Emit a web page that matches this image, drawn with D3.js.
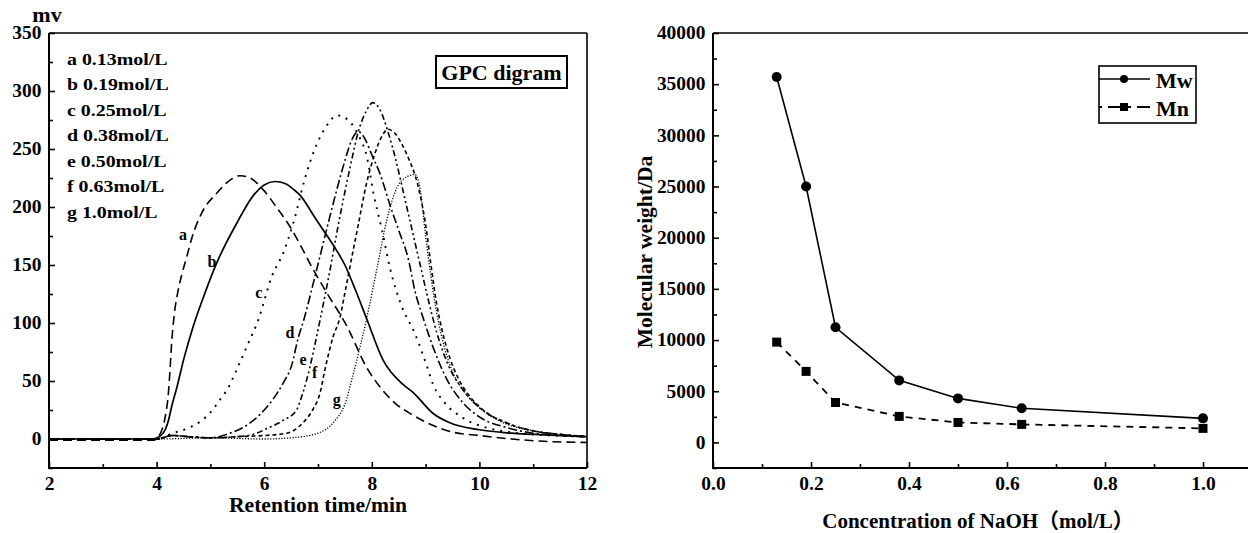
<!DOCTYPE html>
<html><head><meta charset="utf-8">
<script src="https://cdn.jsdelivr.net/npm/d3@7"></script>
<style>
body{margin:0;background:#fff;}
svg{display:block;}
text{font-family:"Liberation Serif","Times New Roman","Noto Sans CJK SC",serif;font-weight:bold;fill:#000;}
</style></head><body>
<svg id="c" width="1248" height="533"></svg>
<script>
// ---------- data: GPC chart ----------
const retentionTicks=[2,4,6,8,10,12];
const retentionMinor=[3,5,7,9,11];
const mvTicks=[0,50,100,150,200,250,300,350];
const mvMinor=[-25,25,75,125,175,225,275,325];
const gpcLegend=["a 0.13mol/L","b 0.19mol/L","c 0.25mol/L","d 0.38mol/L","e 0.50mol/L","f 0.63mol/L","g 1.0mol/L"];
const curveNames=["a","b","c","d","e","f","g"];
const curveA=[[2,-1],[3,-1],[3.95,-1],[4.03,2],[4.1,8],[4.16,19],[4.22,40],[4.25,60],[4.28,83],[4.33,108],[4.4,128],[4.47,142],[4.56,157],[4.66,174],[4.84,195],[5.12,212],[5.36,223],[5.55,227],[5.74,225],[5.98,215],[6.24,199],[6.48,183],[6.72,163],[6.9,147],[7.15,127],[7.54,97],[7.9,62],[8.15,45],[8.43,31],[8.75,21],[9.12,12],[9.5,6],[10,3],[10.6,0],[11.2,-2],[12,-3]];
const curveB=[[2,0],[3.9,0],[4.05,2],[4.16,8],[4.22,16],[4.28,28],[4.38,45],[4.5,68],[4.68,97],[4.9,126],[5.12,152],[5.49,186],[5.8,210],[6.0,219],[6.2,222],[6.4,220],[6.55,215],[6.67,210],[6.9,194],[7.04,184],[7.3,166],[7.5,150],[7.7,128],[7.91,103],[8.21,68],[8.58,47],[8.77,40],[9.14,22],[9.45,14],[10,8],[10.6,5],[11.5,3],[12,2]];
const curveC=[[2,0],[4,0],[4.3,5],[4.62,10],[4.84,16],[5.0,23],[5.18,34],[5.33,44],[5.49,60],[5.68,80],[5.9,104],[6.14,140],[6.35,160],[6.54,186],[6.76,225],[6.94,250],[7.07,263],[7.19,272],[7.35,279],[7.56,275],[7.75,262],[7.91,243],[8.03,212],[8.19,180],[8.34,147],[8.56,114],[8.8,91],[9.03,62],[9.14,47],[9.36,31],[9.7,18],[10.2,9],[11,4],[12,2]];
const curveD=[[2,0],[4,0],[4.3,3],[4.6,2],[5,1],[5.3,4],[5.68,12],[5.92,21],[6.16,34],[6.35,48],[6.52,65],[6.62,85],[6.75,105],[6.9,132],[7.05,160],[7.2,188],[7.35,215],[7.5,240],[7.62,257],[7.75,265],[7.88,258],[8.0,245],[8.15,229],[8.35,200],[8.5,180],[8.68,155],[8.8,128],[8.95,105],[9.14,79],[9.4,51],[9.7,31],[10,19],[10.5,10],[11,5],[11.5,3],[12,2]];
const curveE=[[2,0],[4,0],[4.3,3],[4.6,2],[5,1],[5.5,2],[5.8,4],[6.05,9],[6.35,16],[6.6,25],[6.72,40],[6.85,62],[6.95,83],[7.04,103],[7.2,140],[7.4,190],[7.6,235],[7.75,265],[7.9,283],[8.02,290],[8.15,284],[8.3,265],[8.45,240],[8.6,210],[8.75,180],[8.9,150],[9.05,120],[9.2,93],[9.4,66],[9.7,42],[10,27],[10.5,14],[11,7],[11.5,4],[12,2]];
const curveF=[[2,0],[4,0],[4.3,3],[4.6,2],[5,1],[5.5,2],[6,3],[6.42,5],[6.72,14],[6.9,25],[7.04,40],[7.13,60],[7.28,88],[7.41,105],[7.5,126],[7.6,150],[7.75,185],[7.9,220],[8.05,245],[8.2,262],[8.3,267],[8.42,264],[8.55,255],[8.7,240],[8.8,228],[8.9,210],[9.0,185],[9.1,150],[9.2,118],[9.3,95],[9.45,70],[9.6,53],[9.8,38],[10.1,24],[10.5,14],[11,7],[11.5,4],[12,2]];
const curveG=[[2,0],[4,0],[5,1],[6,0],[6.5,1],[7.0,5],[7.3,15],[7.5,30],[7.65,55],[7.78,79],[7.9,103],[8.1,148],[8.28,189],[8.47,217],[8.65,226],[8.8,228],[8.9,215],[9.0,175],[9.1,140],[9.2,110],[9.3,88],[9.5,58],[9.7,42],[10.0,27],[10.4,15],[11,7],[11.5,4],[12,2]];
const curveLabelPos=[[4.49,176],[5.03,153],[5.9,126],[6.48,92],[6.72,69],[6.94,57],[7.35,34]];

// ---------- data: molecular weight chart ----------
const naohConc=[0.13,0.19,0.25,0.38,0.50,0.63,1.0];
const mwValues=[35700,25000,11250,6060,4300,3330,2350];
const mnValues=[9800,6940,3900,2540,1950,1760,1370];
const concTicks=[0,0.2,0.4,0.6,0.8,1.0];
const concMinor=[0.1,0.3,0.5,0.7,0.9,1.1];
const mwTicks=[0,5000,10000,15000,20000,25000,30000,35000,40000];
const mwMinor=[-2500,2500,7500,12500,17500,22500,27500,32500,37500];
const seriesNames=["Mw","Mn"];

// ---------- drawing ----------
const svg=d3.select("#c");
const SX=1.08;

function frame(g,x,y){
  const x0=x.range()[0],x1=x.range()[1],y0=y.range()[0],y1=y.range()[1];
  g.append("line").attr("x1",x0).attr("x2",x1).attr("y1",y1).attr("y2",y1).attr("stroke","#000").attr("stroke-width",1.6);
  g.append("line").attr("x1",x1).attr("x2",x1).attr("y1",y1).attr("y2",y0).attr("stroke","#000").attr("stroke-width",1.6);
  g.append("line").attr("x1",x0).attr("x2",x0).attr("y1",y1).attr("y2",y0+1).attr("stroke","#000").attr("stroke-width",2);
  g.append("line").attr("x1",x0-1).attr("x2",x1).attr("y1",y0).attr("y2",y0).attr("stroke","#000").attr("stroke-width",2);
}
function axes(x,y,xt,xm,yt,ym,xfmt,yfmt){
  const yb=y.range()[0], xl=x.range()[0];
  const gx=svg.append("g").attr("transform",`translate(0,${yb})`)
    .call(d3.axisBottom(x).tickValues(xt).tickSizeInner(-6).tickSizeOuter(0).tickPadding(9).tickFormat(xfmt));
  const gxm=svg.append("g").attr("transform",`translate(0,${yb})`)
    .call(d3.axisBottom(x).tickValues(xm).tickSizeInner(-4).tickSizeOuter(0).tickFormat(""));
  const gy=svg.append("g").attr("transform",`translate(${xl},0)`)
    .call(d3.axisLeft(y).tickValues(yt).tickSizeInner(-6).tickSizeOuter(0).tickPadding(7).tickFormat(yfmt));
  const gym=svg.append("g").attr("transform",`translate(${xl},0)`)
    .call(d3.axisLeft(y).tickValues(ym).tickSizeInner(-4).tickSizeOuter(0).tickFormat(""));
  [gx,gxm,gy,gym].forEach(g=>{g.select(".domain").remove();g.selectAll("line").attr("stroke","#000").attr("stroke-width",1.6);});
  [gx,gy].forEach(g=>g.selectAll("text").attr("font-size",18).attr("font-family",null).attr("transform",`scale(${SX},1)`).style("fill","#000"));
}

// ---- left chart ----
const x1=d3.scaleLinear().domain([2,12]).range([49,587]);
const y1=d3.scaleLinear().domain([-25,350]).range([468,33]);
axes(x1,y1,retentionTicks,retentionMinor,mvTicks,mvMinor,d3.format("d"),d3.format("d"));
svg.append("defs").append("clipPath").attr("id","clipL").append("rect")
  .attr("x",x1(2)).attr("y",y1(350)).attr("width",x1(12)-x1(2)).attr("height",y1(-25)-y1(350));
const curves=[curveA,curveB,curveC,curveD,curveE,curveF,curveG];
const dashes=["9,5",null,"2,6","9,3,2,3","6,3,2,3,2,3","4,3","1.2,1.6"];
const widths=[1.6,1.7,1.9,1.6,1.6,1.6,1.3];
const line1=d3.line().x(d=>x1(d[0])).y(d=>y1(d[1])).curve(d3.curveMonotoneX);
const gc=svg.append("g").attr("clip-path","url(#clipL)");
curves.forEach((c,i)=>{
  gc.append("path").datum(c).attr("d",line1).attr("fill","none").attr("stroke","#000")
    .attr("stroke-width",widths[i]).attr("stroke-dasharray",dashes[i]);
});
curveLabelPos.forEach((p,i)=>{
  svg.append("text").attr("x",x1(p[0])).attr("y",y1(p[1])).attr("dy","0.35em")
    .attr("text-anchor","middle").attr("font-size",16).text(curveNames[i]);
});
frame(svg.append("g"),x1,y1);
// legend list
gpcLegend.forEach((t,i)=>{
  svg.append("text").attr("transform",`translate(67,${59+i*25.5}) scale(1.17,1)`).attr("dy","0.35em")
    .attr("font-size",17).text(t);
});
// GPC digram box
svg.append("rect").attr("x",436).attr("y",56).attr("width",131).attr("height",32)
  .attr("fill","none").attr("stroke","#000").attr("stroke-width",2);
svg.append("text").attr("x",501.5).attr("y",80).attr("text-anchor","middle").attr("font-size",22).text("GPC digram");
svg.append("text").attr("x",47).attr("y",22).attr("text-anchor","middle").attr("font-size",22).text("mv");
svg.append("text").attr("x",(x1(2)+x1(12))/2).attr("y",512).attr("text-anchor","middle").attr("font-size",21)
  .attr("textLength",178).attr("lengthAdjust","spacingAndGlyphs").text("Retention time/min");

// ---- right chart ----
const x2=d3.scaleLinear().domain([0,1.1]).range([713,1252]);
const y2=d3.scaleLinear().domain([-2500,40000]).range([468,33]);
axes(x2,y2,concTicks,concMinor,mwTicks,mwMinor,d3.format(".1f"),d3.format("d"));
const mw=naohConc.map((c,i)=>[c,mwValues[i]]);
const mn=naohConc.map((c,i)=>[c,mnValues[i]]);
const line2=d3.line().x(d=>x2(d[0])).y(d=>y2(d[1]));
svg.append("path").datum(mw).attr("d",line2).attr("fill","none").attr("stroke","#000").attr("stroke-width",1.6);
svg.append("path").datum(mn).attr("d",line2).attr("fill","none").attr("stroke","#000").attr("stroke-width",1.8).attr("stroke-dasharray","7,6");
svg.selectAll(".mwpt").data(mw).enter().append("circle").attr("cx",d=>x2(d[0])).attr("cy",d=>y2(d[1])).attr("r",5).attr("fill","#000");
svg.selectAll(".mnpt").data(mn).enter().append("rect").attr("x",d=>x2(d[0])-4.5).attr("y",d=>y2(d[1])-4.5).attr("width",9).attr("height",9).attr("fill","#000");
frame(svg.append("g"),x2,y2);
// legend
svg.append("rect").attr("x",1099).attr("y",66).attr("width",97).attr("height",57).attr("fill","none").attr("stroke","#000").attr("stroke-width",1.6);
svg.append("line").attr("x1",1099).attr("x2",1150).attr("y1",79).attr("y2",79).attr("stroke","#000").attr("stroke-width",1.6);
svg.append("circle").attr("cx",1124).attr("cy",79).attr("r",4).attr("fill","#000");
svg.append("line").attr("x1",1099).attr("x2",1150).attr("y1",107).attr("y2",107).attr("stroke","#000").attr("stroke-width",1.8).attr("stroke-dasharray","3,6,14,6");
svg.append("rect").attr("x",1120).attr("y",103).attr("width",8).attr("height",8).attr("fill","#000");
svg.append("text").attr("x",1156).attr("y",88).attr("font-size",22).text(seriesNames[0]);
svg.append("text").attr("x",1156).attr("y",116).attr("font-size",22).text(seriesNames[1]);
svg.append("text").attr("x",978).attr("y",528).attr("text-anchor","middle").attr("font-size",21).text("Concentration of NaOH（mol/L）");
svg.append("text").attr("transform","translate(652,252) rotate(-90)").attr("text-anchor","middle").attr("font-size",21.5).text("Molecular weight/Da");
</script>
</body></html>
